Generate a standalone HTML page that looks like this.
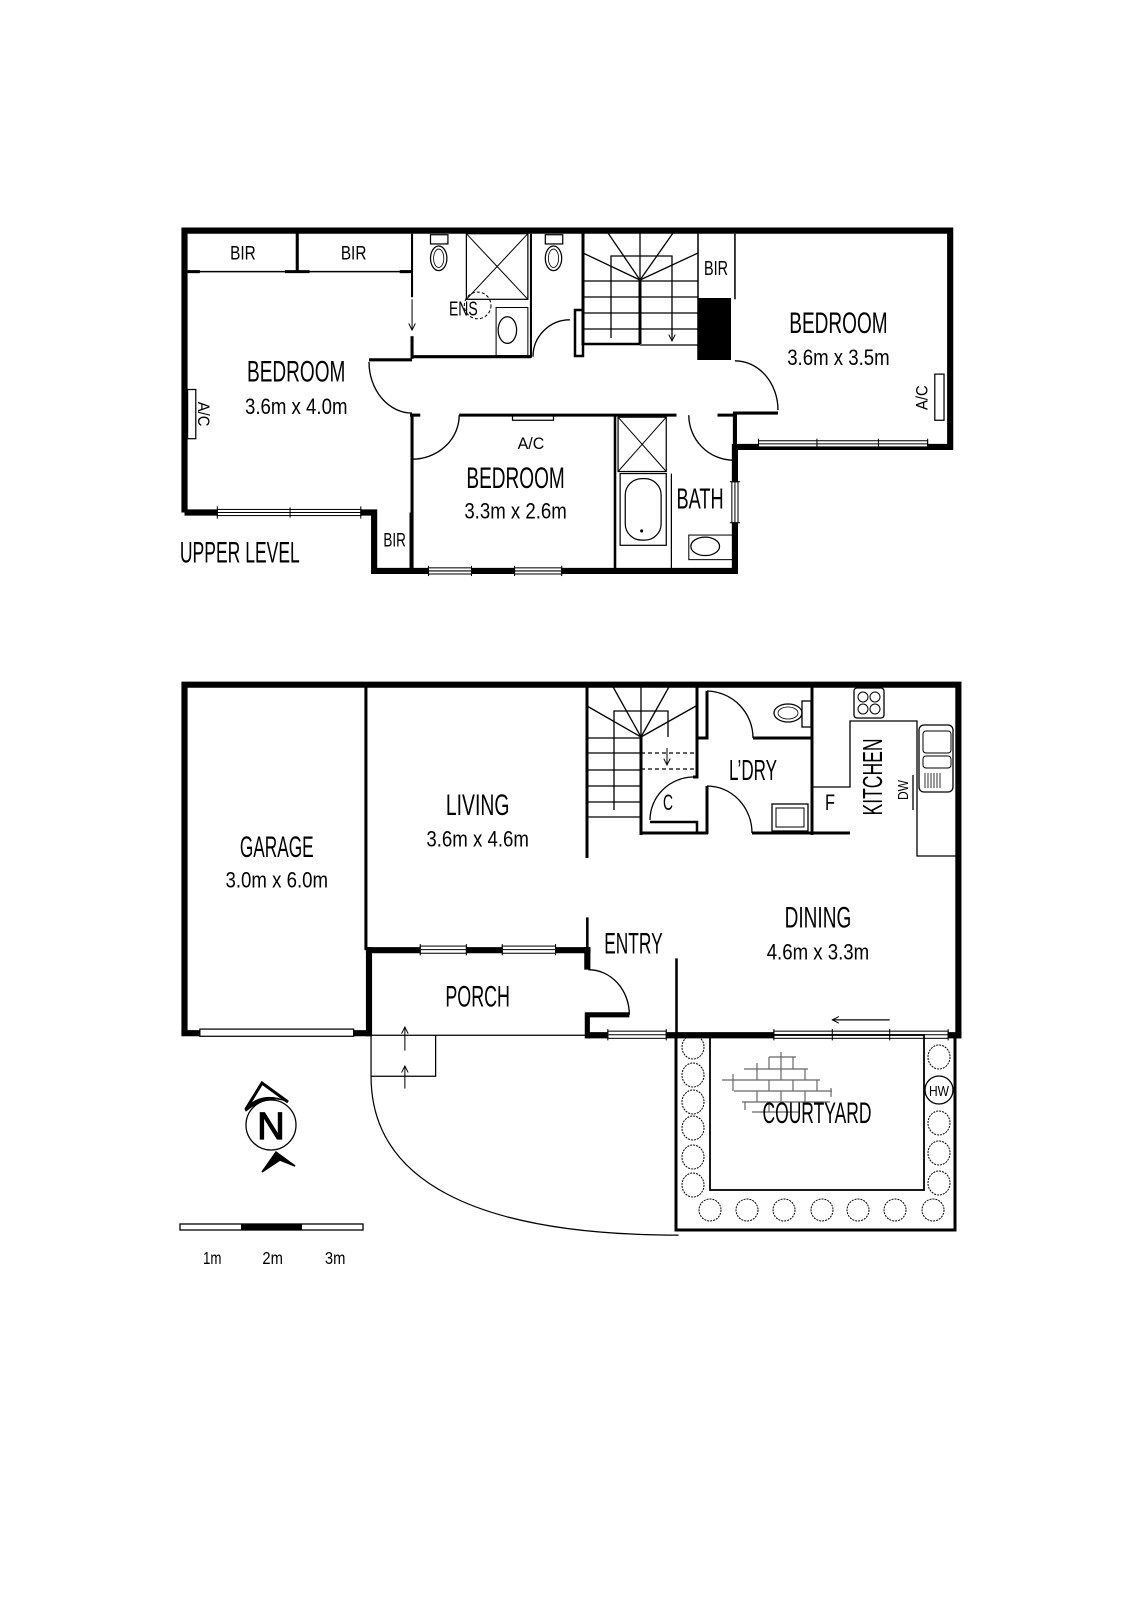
<!DOCTYPE html>
<html><head><meta charset="utf-8"><style>
html,body{margin:0;padding:0;background:#fff;}
svg{display:block;}
text{font-family:"Liberation Sans",sans-serif;fill:#000;}
</style></head><body>
<svg width="1131" height="1600" viewBox="0 0 1131 1600" xmlns="http://www.w3.org/2000/svg">
<defs>
<marker id="ah" viewBox="0 0 10 10" refX="9" refY="5" markerWidth="8" markerHeight="8" markerUnits="userSpaceOnUse" orient="auto-start-reverse"><path d="M1,1 L9,5 L1,9" fill="none" stroke="#000" stroke-width="1.2"/></marker>
</defs>
<rect width="1131" height="1600" fill="#fff"/>

<g transform="scale(1.025)" stroke="#000" fill="none">
<polyline points="180,500 180,225 927,225 927,436 717,436 717,557 365,557 365,500 180,500" stroke-width="6" stroke-linejoin="miter"/>
<g stroke-width="1">
<rect x="212" y="497" width="140" height="6" fill="#fff"/><line x1="212" y1="500" x2="352" y2="500"/><line x1="283" y1="495" x2="283" y2="505"/><line x1="212" y1="494" x2="212" y2="506"/><line x1="352" y1="494" x2="352" y2="506"/>
<rect x="418" y="554" width="42" height="6" fill="#fff"/><line x1="418" y1="557" x2="460" y2="557"/><line x1="418" y1="552" x2="418" y2="562"/><line x1="460" y1="552" x2="460" y2="562"/>
<rect x="502" y="554" width="46" height="6" fill="#fff"/><line x1="502" y1="557" x2="548" y2="557"/><line x1="502" y1="552" x2="502" y2="562"/><line x1="548" y1="552" x2="548" y2="562"/>
<rect x="740" y="430" width="165" height="6" fill="#fff"/><line x1="740" y1="433" x2="905" y2="433"/><line x1="740" y1="428" x2="740" y2="439"/><line x1="797" y1="428" x2="797" y2="439"/><line x1="857" y1="428" x2="857" y2="439"/><line x1="905" y1="428" x2="905" y2="439"/>
<rect x="714" y="470" width="6" height="40" fill="#fff"/><line x1="717" y1="470" x2="717" y2="510"/><line x1="712" y1="470" x2="722" y2="470"/><line x1="712" y1="510" x2="722" y2="510"/>
</g>
<line x1="183" y1="265" x2="402" y2="265" stroke-width="1.5"/>
<line x1="290" y1="225" x2="290" y2="266" stroke-width="3"/>
<line x1="183" y1="265" x2="195" y2="265" stroke-width="3"/><line x1="278" y1="265" x2="302" y2="265" stroke-width="3"/><line x1="390" y1="265" x2="402" y2="265" stroke-width="3"/>
<line x1="402" y1="228" x2="402" y2="290" stroke-width="2"/>
<line x1="402" y1="292" x2="402" y2="322" stroke-width="1" marker-end="url(#ah)"/>
<line x1="402" y1="328" x2="402" y2="350" stroke-width="3"/>
<line x1="402" y1="348" x2="518" y2="348" stroke-width="3"/>
<line x1="518" y1="228" x2="518" y2="349" stroke-width="2"/>
<rect x="455" y="228" width="60" height="64" stroke-width="1.2"/>
<line x1="455" y1="228" x2="515" y2="292" stroke-width="1"/><line x1="515" y1="228" x2="455" y2="292" stroke-width="1"/>
<circle cx="466" cy="298" r="13" stroke-width="1" stroke-dasharray="3,2"/>
<rect x="484" y="300" width="31" height="47" stroke-width="1"/>
<ellipse cx="495" cy="322" rx="9" ry="13" stroke-width="1.2" fill="#fff"/>
<rect x="420" y="229" width="17" height="9" stroke-width="1.2"/><ellipse cx="428" cy="252" rx="8" ry="12" stroke-width="1.2"/><ellipse cx="428" cy="252" rx="5" ry="9" stroke-width="0.8"/>
<rect x="532" y="229" width="17" height="9" stroke-width="1.2"/><ellipse cx="540" cy="252" rx="8" ry="12" stroke-width="1.2"/><ellipse cx="540" cy="252" rx="5" ry="9" stroke-width="0.8"/>
<path d="M520,348 A36,36 0 0 1 556,312" stroke-width="1.3"/>
<line x1="402" y1="351" x2="360" y2="351" stroke-width="3"/>
<path d="M360,353 A42,50 0 0 0 402,403" stroke-width="1.3"/>
<path d="M717,352 A42,48 0 0 1 759,400" stroke-width="1.3"/>
<line x1="715" y1="403" x2="759" y2="403" stroke-width="3"/>
<line x1="717" y1="403" x2="717" y2="436" stroke-width="4"/>
<line x1="717" y1="228" x2="717" y2="292" stroke-width="1.5"/>
<line x1="402" y1="405" x2="402" y2="557" stroke-width="3"/>
<line x1="400" y1="405" x2="410" y2="405" stroke-width="3"/>
<path d="M402,448 A46,43 0 0 0 448,405" stroke-width="1.3"/>
<line x1="448" y1="405" x2="660" y2="405" stroke-width="3"/>
<path d="M672,405 A44,44 0 0 0 715,449" stroke-width="1.3"/>
<line x1="700" y1="405" x2="717" y2="405" stroke-width="3"/>
<rect x="500" y="405" width="40" height="5" stroke-width="1.2"/>
<line x1="400" y1="500" x2="400" y2="557" stroke-width="1"/>
<line x1="600" y1="405" x2="600" y2="557" stroke-width="2.5"/>
<rect x="603" y="407" width="47" height="53" stroke-width="1.2"/>
<line x1="603" y1="407" x2="650" y2="460" stroke-width="1"/><line x1="650" y1="407" x2="603" y2="460" stroke-width="1"/>
<rect x="605" y="462" width="45" height="70" stroke-width="1.2"/>
<rect x="610" y="467" width="35" height="60" rx="16" stroke-width="1.2"/>
<circle cx="626" cy="518" r="1" fill="#000"/>
<line x1="655" y1="462" x2="655" y2="557" stroke-width="1.2"/>
<rect x="672" y="522" width="45" height="24" stroke-width="1"/>
<ellipse cx="688" cy="533" rx="14" ry="9" stroke-width="1.2" fill="#fff"/>
<rect x="183" y="380" width="8" height="48" stroke-width="1.2"/>
<rect x="912" y="365" width="9" height="45" stroke-width="1.2"/>

<polyline points="180,1008 180,668 935,668 935,1013" stroke-width="6"/>
<line x1="177" y1="1008" x2="362" y2="1008" stroke-width="6"/>
<rect x="195" y="1004" width="150" height="7" fill="#fff" stroke-width="1.2"/>
<line x1="357" y1="670" x2="357" y2="927" stroke-width="3"/>
<line x1="360" y1="924" x2="360" y2="1011" stroke-width="6"/>
<line x1="357" y1="927" x2="576" y2="927" stroke-width="6"/>
<g stroke-width="1">
<rect x="410" y="923" width="45" height="7" fill="#fff"/><line x1="410" y1="926.5" x2="455" y2="926.5"/><line x1="410" y1="921" x2="410" y2="932"/><line x1="455" y1="921" x2="455" y2="932"/>
<rect x="490" y="923" width="52" height="7" fill="#fff"/><line x1="490" y1="926.5" x2="542" y2="926.5"/><line x1="490" y1="921" x2="490" y2="932"/><line x1="542" y1="921" x2="542" y2="932"/>
</g>
<line x1="573" y1="924" x2="573" y2="946" stroke-width="6"/>
<path d="M574,946 A40,44 0 0 1 614,990" stroke-width="1.3"/>
<polyline points="614,990 573,990 573,1013" stroke-width="5"/>
<line x1="360" y1="1010" x2="573" y2="1010" stroke-width="1.3"/>
<line x1="573" y1="1010" x2="938" y2="1010" stroke-width="6"/>
<g stroke-width="1">
<rect x="593" y="1006" width="57" height="7" fill="#fff"/><line x1="593" y1="1009.5" x2="650" y2="1009.5"/><line x1="593" y1="1004" x2="593" y2="1015"/><line x1="650" y1="1004" x2="650" y2="1015"/>
<rect x="755" y="1006" width="170" height="7" fill="#fff"/><line x1="755" y1="1009.5" x2="925" y2="1009.5"/><line x1="755" y1="1004" x2="755" y2="1015"/><line x1="812" y1="1004" x2="812" y2="1015"/><line x1="868" y1="1004" x2="868" y2="1015"/><line x1="925" y1="1004" x2="925" y2="1015"/>
</g>
<line x1="868" y1="995" x2="812" y2="995" stroke-width="1.2" marker-end="url(#ah)"/>
<line x1="573" y1="895" x2="573" y2="927" stroke-width="2.5"/>
<line x1="660" y1="935" x2="660" y2="1010" stroke-width="2.5"/>
<polyline points="362,1010 362,1050 425,1050 425,1010" stroke-width="1.2"/>
<line x1="395" y1="1025" x2="395" y2="1002" stroke-width="1" marker-end="url(#ah)"/>
<line x1="395" y1="1062" x2="395" y2="1040" stroke-width="1" marker-end="url(#ah)"/>
<path d="M362,1050 C362,1150 460,1205 662,1205" stroke-width="1.2"/>
</g>

<g stroke="#000" fill="none">
<line x1="583" y1="233" x2="583" y2="345" stroke-width="3"/>
<rect x="575" y="310" width="8" height="46" stroke-width="2.5"/>
<line x1="640" y1="280" x2="640" y2="344" stroke-width="3"/>
<line x1="583" y1="344" x2="640" y2="344" stroke-width="2.5"/>
<line x1="640" y1="345" x2="698" y2="345" stroke-width="1.3"/>
<g stroke-width="1.3">
<line x1="583" y1="281" x2="698" y2="281"/><line x1="583" y1="297" x2="698" y2="297"/><line x1="583" y1="313" x2="698" y2="313"/><line x1="583" y1="329" x2="698" y2="329"/>
<polyline points="611,338 611,256 672,256 672,338"/>
<line x1="640" y1="233" x2="640" y2="280"/>
<line x1="640" y1="280" x2="608" y2="233"/><line x1="640" y1="280" x2="673" y2="233"/>
<line x1="640" y1="280" x2="583" y2="253"/><line x1="640" y1="280" x2="698" y2="253"/>
</g>
<line x1="672" y1="318" x2="672" y2="341" stroke-width="1" marker-end="url(#ah)"/>
<line x1="698" y1="233" x2="698" y2="360" stroke-width="1.5"/>
<rect x="698" y="298" width="33" height="62" fill="#000" stroke="none"/>

<line x1="587" y1="685" x2="587" y2="858" stroke-width="3"/>
<g stroke-width="1.3">
<line x1="587" y1="738" x2="641" y2="738"/><line x1="587" y1="753" x2="641" y2="753"/><line x1="587" y1="770" x2="641" y2="770"/><line x1="587" y1="786" x2="641" y2="786"/><line x1="587" y1="802" x2="641" y2="802"/><line x1="587" y1="817" x2="641" y2="817"/>
<polyline points="614,810 614,711 668,711 668,737"/>
<line x1="641" y1="737" x2="612" y2="685"/><line x1="641" y1="737" x2="641" y2="685"/><line x1="641" y1="737" x2="670" y2="685"/>
<line x1="641" y1="737" x2="587" y2="706"/><line x1="641" y1="737" x2="696" y2="706"/>
</g>
<line x1="641" y1="737" x2="641" y2="835" stroke-width="3"/>
<line x1="641" y1="753" x2="695" y2="753" stroke-width="1.2" stroke-dasharray="4,3"/>
<line x1="641" y1="769" x2="695" y2="769" stroke-width="1.2" stroke-dasharray="4,3"/>
<line x1="667" y1="748" x2="667" y2="765" stroke-width="1" marker-end="url(#ah)"/>
<line x1="697" y1="685" x2="697" y2="739" stroke-width="3"/>
<polyline points="696,738 707,738 707,691" stroke-width="3"/>
<path d="M707,691 A47,47 0 0 1 753,738" stroke-width="1.3"/>
<line x1="753" y1="738" x2="813" y2="738" stroke-width="3"/>
<line x1="812" y1="685" x2="812" y2="835" stroke-width="3"/>
<polyline points="697,739 697,777 693,777" stroke-width="3"/>
<path d="M693,777 A44,43 0 0 0 650,820" stroke-width="1.3"/>
<polyline points="650,822 697,822 697,834" stroke-width="2.5"/>
<line x1="640" y1="833" x2="708" y2="833" stroke-width="3"/>
<line x1="707" y1="786" x2="707" y2="834" stroke-width="3"/>
<path d="M707,786 A45,47 0 0 1 752,833" stroke-width="1.3"/>
<line x1="752" y1="833" x2="850" y2="833" stroke-width="3"/>
<rect x="772" y="804" width="36" height="27" stroke-width="1.3"/>
<rect x="776" y="808" width="28" height="19" stroke-width="1"/>
<rect x="802" y="701" width="9" height="26" stroke-width="1.3"/>
<ellipse cx="788" cy="713" rx="14" ry="9" stroke-width="1.3"/><ellipse cx="788" cy="713" rx="10" ry="6" stroke-width="0.8"/>
<polyline points="812,787 850,787 850,721 917,721 917,856 958,856" stroke-width="1.3"/>
<rect x="854" y="688" width="30" height="30" rx="3" stroke-width="1.3"/>
<circle cx="863" cy="697" r="5" stroke-width="1"/><circle cx="875" cy="697" r="5" stroke-width="1"/><circle cx="863" cy="709" r="5" stroke-width="1"/><circle cx="875" cy="709" r="5" stroke-width="1"/>
<rect x="919" y="725" width="34" height="67" rx="5" stroke-width="1.3"/>
<rect x="923" y="731" width="28" height="22" rx="3" stroke-width="1"/>
<rect x="923" y="756" width="28" height="12" rx="3" stroke-width="1"/>
<g stroke-width="0.8"><line x1="925" y1="773" x2="925" y2="788"/><line x1="928" y1="773" x2="928" y2="788"/><line x1="931" y1="773" x2="931" y2="788"/><line x1="934" y1="773" x2="934" y2="788"/><line x1="937" y1="773" x2="937" y2="788"/><line x1="940" y1="773" x2="940" y2="788"/></g>
<line x1="913" y1="775" x2="913" y2="810" stroke-width="1.3"/>

<polyline points="676,1035 676,1230 955,1230 955,1035" stroke-width="3"/>
<rect x="710" y="1035" width="214" height="155" stroke-width="1.8"/>
<g stroke-width="1" stroke-dasharray="2,1">
<ellipse cx="693" cy="1047" rx="11" ry="12"/><ellipse cx="693" cy="1075" rx="11" ry="12"/><ellipse cx="693" cy="1102" rx="11" ry="12"/><ellipse cx="693" cy="1128" rx="11" ry="12"/><ellipse cx="693" cy="1157" rx="11" ry="12"/><ellipse cx="693" cy="1185" rx="11" ry="12"/>
<ellipse cx="710" cy="1210" rx="11" ry="11"/><ellipse cx="747" cy="1210" rx="11" ry="11"/><ellipse cx="784" cy="1210" rx="11" ry="11"/><ellipse cx="822" cy="1210" rx="11" ry="11"/><ellipse cx="858" cy="1210" rx="11" ry="11"/><ellipse cx="895" cy="1210" rx="11" ry="11"/><ellipse cx="933" cy="1210" rx="11" ry="11"/>
<ellipse cx="939" cy="1057" rx="11" ry="12"/><ellipse cx="939" cy="1123" rx="11" ry="12"/><ellipse cx="939" cy="1153" rx="11" ry="12"/><ellipse cx="939" cy="1183" rx="11" ry="12"/>
</g>
<ellipse cx="939" cy="1090" rx="14" ry="14" stroke-width="1.3"/>
<g stroke="#666" stroke-width="1.2">
<line x1="769" y1="1057" x2="796" y2="1057"/><line x1="744" y1="1069" x2="808" y2="1069"/><line x1="722" y1="1080" x2="820" y2="1080"/><line x1="734" y1="1091" x2="832" y2="1091"/><line x1="742" y1="1102" x2="830" y2="1102"/><line x1="752" y1="1112" x2="800" y2="1112"/>
<line x1="781" y1="1052" x2="781" y2="1069"/><line x1="769" y1="1057" x2="769" y2="1069"/><line x1="793" y1="1057" x2="793" y2="1069"/>
<line x1="757" y1="1063" x2="757" y2="1080"/><line x1="781" y1="1069" x2="781" y2="1080"/><line x1="805" y1="1069" x2="805" y2="1080"/>
<line x1="733" y1="1074" x2="733" y2="1091"/><line x1="769" y1="1080" x2="769" y2="1091"/><line x1="793" y1="1080" x2="793" y2="1091"/><line x1="817" y1="1080" x2="817" y2="1091"/>
<line x1="757" y1="1091" x2="757" y2="1102"/><line x1="781" y1="1091" x2="781" y2="1102"/><line x1="805" y1="1091" x2="805" y2="1102"/><line x1="831" y1="1088" x2="831" y2="1097"/>
<line x1="745" y1="1102" x2="745" y2="1110"/><line x1="769" y1="1102" x2="769" y2="1112"/>
</g>

<circle cx="271" cy="1125" r="25" stroke-width="1.3"/>
<path d="M245,1109 Q262,1090 288,1102 Q268,1093 246,1111 Z" fill="#000" stroke="#000" stroke-width="1"/>
<path d="M246,1109 L262,1083 L288,1102" fill="none" stroke="#000" stroke-width="3"/>
<path d="M262,1172 L276,1152 L295,1166 L280,1160 Z" fill="#000" stroke="#000" stroke-width="1.5"/>
<rect x="180" y="1224" width="183" height="6" stroke-width="1.3" fill="#fff"/>
<rect x="241" y="1224" width="61" height="6" fill="#000" stroke="none"/>
</g>

<g transform="scale(1.025)" text-anchor="middle">
<text x="237" y="253" font-size="19" textLength="25" lengthAdjust="spacingAndGlyphs">BIR</text>
<text x="345" y="253" font-size="19" textLength="25" lengthAdjust="spacingAndGlyphs">BIR</text>
<text x="289" y="372" font-size="29" textLength="96" lengthAdjust="spacingAndGlyphs">BEDROOM</text>
<text x="289" y="404" font-size="22" textLength="100" lengthAdjust="spacingAndGlyphs">3.6m x 4.0m</text>
<text transform="translate(198,404) rotate(90)" font-size="16" textLength="24" lengthAdjust="spacingAndGlyphs" y="5">A/C</text>
<text x="452" y="308" font-size="20" textLength="28" lengthAdjust="spacingAndGlyphs">ENS</text>
<text x="818" y="325" font-size="29" textLength="96" lengthAdjust="spacingAndGlyphs">BEDROOM</text>
<text x="818" y="356" font-size="22" textLength="100" lengthAdjust="spacingAndGlyphs">3.6m x 3.5m</text>
<text transform="translate(900,388) rotate(-90)" font-size="16" textLength="24" lengthAdjust="spacingAndGlyphs" y="5">A/C</text>
<text x="518" y="438" font-size="16" textLength="26" lengthAdjust="spacingAndGlyphs">A/C</text>
<text x="503" y="476" font-size="29" textLength="96" lengthAdjust="spacingAndGlyphs">BEDROOM</text>
<text x="503" y="506" font-size="22" textLength="100" lengthAdjust="spacingAndGlyphs">3.3m x 2.6m</text>
<text x="683" y="496" font-size="28" textLength="46" lengthAdjust="spacingAndGlyphs">BATH</text>
<text x="385" y="533" font-size="19" textLength="22" lengthAdjust="spacingAndGlyphs">BIR</text>
<text x="234" y="549" font-size="29" textLength="117" lengthAdjust="spacingAndGlyphs">UPPER LEVEL</text>
<text x="270" y="836" font-size="29" textLength="72" lengthAdjust="spacingAndGlyphs">GARAGE</text>
<text x="270" y="866" font-size="22" textLength="100" lengthAdjust="spacingAndGlyphs">3.0m x 6.0m</text>
<text x="466" y="795" font-size="29" textLength="62" lengthAdjust="spacingAndGlyphs">LIVING</text>
<text x="466" y="826" font-size="22" textLength="100" lengthAdjust="spacingAndGlyphs">3.6m x 4.6m</text>
<text x="618" y="930" font-size="29" textLength="57" lengthAdjust="spacingAndGlyphs">ENTRY</text>
<text x="798" y="905" font-size="29" textLength="65" lengthAdjust="spacingAndGlyphs">DINING</text>
<text x="798" y="936" font-size="22" textLength="100" lengthAdjust="spacingAndGlyphs">4.6m x 3.3m</text>
<text x="466" y="982" font-size="29" textLength="63" lengthAdjust="spacingAndGlyphs">PORCH</text>
<text x="207" y="1233" font-size="17" textLength="18" lengthAdjust="spacingAndGlyphs">1m</text>
<text x="266" y="1233" font-size="17" textLength="20" lengthAdjust="spacingAndGlyphs">2m</text>
<text x="327" y="1233" font-size="17" textLength="20" lengthAdjust="spacingAndGlyphs">3m</text>
</g>
<g text-anchor="middle">
<text x="716" y="275" font-size="20" textLength="24" lengthAdjust="spacingAndGlyphs">BIR</text>
<text x="753" y="780" font-size="29" textLength="48" lengthAdjust="spacingAndGlyphs">L’DRY</text>
<text x="668" y="810" font-size="22" textLength="10" lengthAdjust="spacingAndGlyphs">C</text>
<text x="830" y="810" font-size="22" textLength="10" lengthAdjust="spacingAndGlyphs">F</text>
<text transform="translate(872,777) rotate(-90)" y="10" font-size="28" textLength="77" lengthAdjust="spacingAndGlyphs">KITCHEN</text>
<text transform="translate(903,790) rotate(-90)" y="5" font-size="15" textLength="20" lengthAdjust="spacingAndGlyphs">DW</text>
<text x="817" y="1123" font-size="30" textLength="109" lengthAdjust="spacingAndGlyphs">COURTYARD</text>
<text x="939" y="1096" font-size="15" textLength="20" lengthAdjust="spacingAndGlyphs">HW</text>
<text x="271" y="1139" font-size="38" fill="#fff" stroke="#000" stroke-width="1.2">N</text>
</g>
</svg>
</body></html>
